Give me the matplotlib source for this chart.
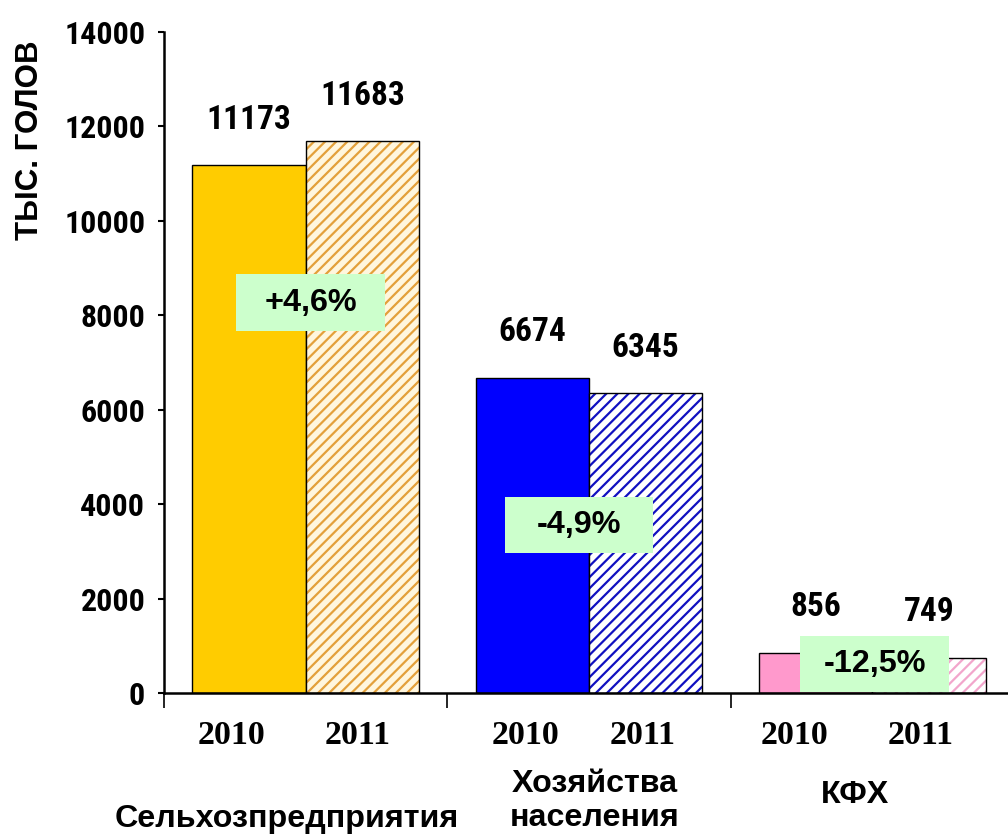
import matplotlib
matplotlib.use("Agg")
import matplotlib.pyplot as plt
from matplotlib.patches import Rectangle
from matplotlib import font_manager as fm
import numpy as np

categories = ["Сельхозпредприятия", "Хозяйства\nнаселения", "КФХ"]
years = ["2010", "2011"]
values_2010 = [11173, 6674, 856]
values_2011 = [11683, 6345, 749]
changes = ["+4,6%", "-4,9%", "-12,5%"]
yticks = [0, 2000, 4000, 6000, 8000, 10000, 12000, 14000]

solid_colors = ["#FFCC00", "#0000FF", "#FF99CC"]
hatch_colors = ["#E3A03A", "#1010C0", "#F2A6CC"]
hatch_bg = ["#FFF6DD", "#FFFFFF", "#FFFFFF"]


def _w(v):
    if isinstance(v, str):
        return 700 if "bold" in v.lower() else 400
    return v


prefs = ["Nimbus Sans Narrow", "Liberation Sans Narrow", "Arial Narrow", "Roboto Condensed",
         "PT Sans Narrow", "Pragati Narrow", "Open Sans Condensed", "Asap Condensed",
         "Barlow Condensed"]
narrow = "Liberation Sans"
for p in prefs:
    ok = [f for f in fm.fontManager.ttflist if f.name == p and _w(f.weight) >= 700 and "talic" not in f.fname]
    if ok:
        narrow = p
        break

plt.rcParams["hatch.linewidth"] = 1.6

fig = plt.figure(figsize=(10.08, 8.36), dpi=100)
ax = fig.add_axes([164/1008, 143/836, 850/1008, 661/836])

x = np.arange(len(categories))
w = 0.4
for i in range(len(categories)):
    ax.bar(x[i] - w/2, values_2010[i], w, color=solid_colors[i], edgecolor="black", linewidth=1.0, zorder=2)
    ax.bar(x[i] + w/2, values_2011[i], w, color=hatch_bg[i], edgecolor=hatch_colors[i], hatch="///", linewidth=0, zorder=2)
    ax.bar(x[i] + w/2, values_2011[i], w, fill=False, edgecolor="black", linewidth=1.0, zorder=3)
    ax.annotate(str(values_2010[i]), (x[i] - w/2, values_2010[i]), xytext=(0, 33), textcoords="offset points",
                ha="center", va="center", fontsize=24, fontweight="bold", family=narrow, zorder=5)
    ax.annotate(str(values_2011[i]), (x[i] + w/2, values_2011[i]), xytext=(0, 33), textcoords="offset points",
                ha="center", va="center", fontsize=24, fontweight="bold", family=narrow, zorder=5)

ax.set_xlim(-0.5, 2.5)
ax.set_ylim(0, 14000)
ax.set_yticks(yticks)
ax.set_yticklabels([str(v) for v in yticks], fontsize=23, fontweight="bold", family=narrow)
ax.tick_params(axis="y", direction="out", length=4.5, width=1.5, pad=9)
ax.set_xticks([-0.5, 0.5, 1.5, 2.5])
ax.set_xticklabels([])
ax.tick_params(axis="x", direction="out", length=11, width=1.2)
for s in ["top", "right"]:
    ax.spines[s].set_visible(False)
ax.spines["left"].set_linewidth(1.8)
ax.spines["bottom"].set_linewidth(1.8)

# year labels
year_offsets = [[-0.06, -0.015], [-0.025, -0.01], [-0.075, -0.03]]
for i in range(len(categories)):
    for j, yr in enumerate(years):
        xc = x[i] + (j - 0.5) * w + year_offsets[i][j]
        ax.text(xc, -0.065, yr, transform=ax.get_xaxis_transform(), ha="center", va="center",
                fontsize=24.5, fontweight="bold", family="Liberation Serif")

# percent boxes
boxes = [(-0.246, 7667, 0.526, 1207), (0.7035, 2965, 0.5225, 1186), (1.745, 21, 0.526, 1186)]
for (bx, by, bw, bh), t in zip(boxes, changes):
    ax.add_patch(Rectangle((bx, by), bw, bh, facecolor="#CCFFCC", edgecolor="none", zorder=6))
    ax.text(bx + bw/2, by + bh/2, t, ha="center", va="center", fontsize=23.3, fontweight="bold",
            family="Liberation Sans", zorder=7)

# category labels
fig.text(287/1008, 1 - 819/836, categories[0], ha="center", va="center", fontsize=23.2, fontweight="bold", family="Liberation Sans")
fig.text(595/1008, 1 - 801/836, categories[1], ha="center", va="center", fontsize=23.2, fontweight="bold",
         family="Liberation Sans", linespacing=1.15)
fig.text(855/1008, 1 - 795/836, categories[2], ha="center", va="center", fontsize=23.2, fontweight="bold", family="Liberation Sans")

fig.text(30/1008, 1 - 140/836, "ТЫС. ГОЛОВ", rotation=90, ha="center", va="center", fontsize=22.5,
         fontweight="bold", family="Liberation Sans")

fig.savefig("out.png", dpi=100)
